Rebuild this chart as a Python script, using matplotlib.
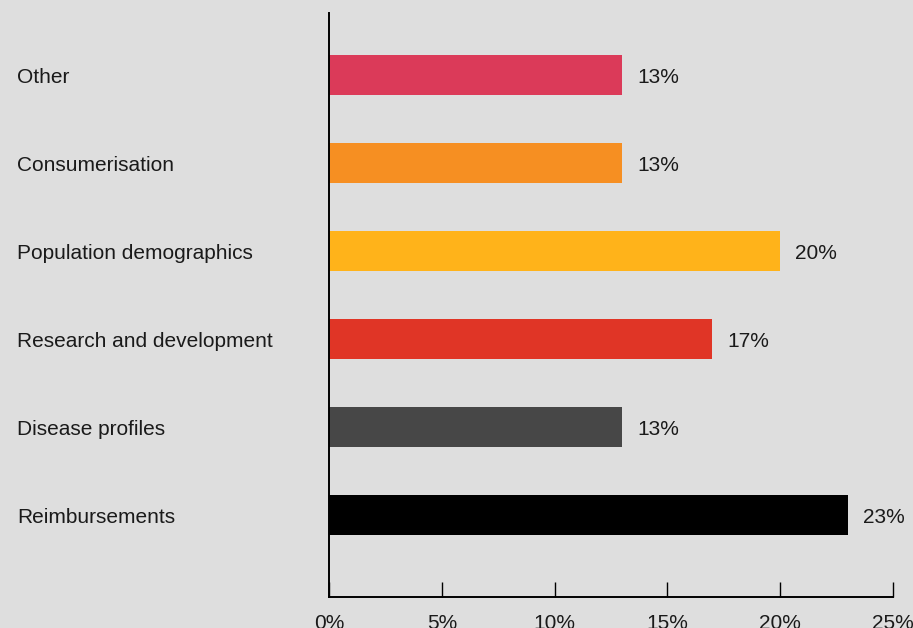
import matplotlib
matplotlib.use("Agg")
import matplotlib.pyplot as plt
from matplotlib.transforms import blended_transform_factory, offset_copy

plt.rcParams['font.family'] = ['Liberation Sans', 'DejaVu Sans']

# Drivers of change, listed bottom to top
categories = ["Reimbursements", "Disease profiles", "Research and development",
              "Population demographics", "Consumerisation", "Other"]
values = [23, 13, 17, 20, 13, 13]
colors = ["#000000", "#474747", "#E03526", "#FFB31A", "#F68F22", "#DB3A59"]
xticks = [0, 5, 10, 15, 20, 25]
xtick_labels = ["0%", "5%", "10%", "15%", "20%", "25%"]

bg = "#DEDEDE"
text_color = "#1A1A1A"
fs = 15

fig = plt.figure(figsize=(9.13, 6.28), dpi=100, facecolor=bg)
ax = fig.add_axes([0.3604, 0.0494, 0.978 - 0.3604, 0.9793 - 0.0494])
ax.set_facecolor(bg)

ypos = list(range(len(categories)))
ax.barh(ypos, values, height=0.455, color=colors)

ax.set_xlim(0, 25)
ax.set_ylim(-0.93, 5.705)

for spine in ("top", "right"):
    ax.spines[spine].set_visible(False)
for spine in ("left", "bottom"):
    ax.spines[spine].set_linewidth(1.4)
    ax.spines[spine].set_color("black")

ax.set_yticks([])
ax.set_xticks(xticks)
ax.set_xticklabels(xtick_labels)
ax.tick_params(axis="x", direction="in", length=11, width=1.0, pad=12,
               labelsize=fs, labelcolor=text_color)

# Category labels, left-aligned near the figure edge
trans = offset_copy(blended_transform_factory(fig.transFigure, ax.transData),
                    fig=fig, x=0, y=-2, units="dots")
for y, name in zip(ypos, categories):
    ax.text(17 / 913, y, name, transform=trans, ha="left", va="center",
            fontsize=fs, color=text_color)

# Value labels to the right of each bar
val_trans = offset_copy(ax.transData, fig=fig, x=15, y=-2, units="dots")
for y, v in zip(ypos, values):
    ax.text(v, y, f"{v}%", transform=val_trans, ha="left", va="center",
            fontsize=fs, color=text_color, clip_on=False)

fig.savefig("out.png", dpi=100, facecolor=bg)
